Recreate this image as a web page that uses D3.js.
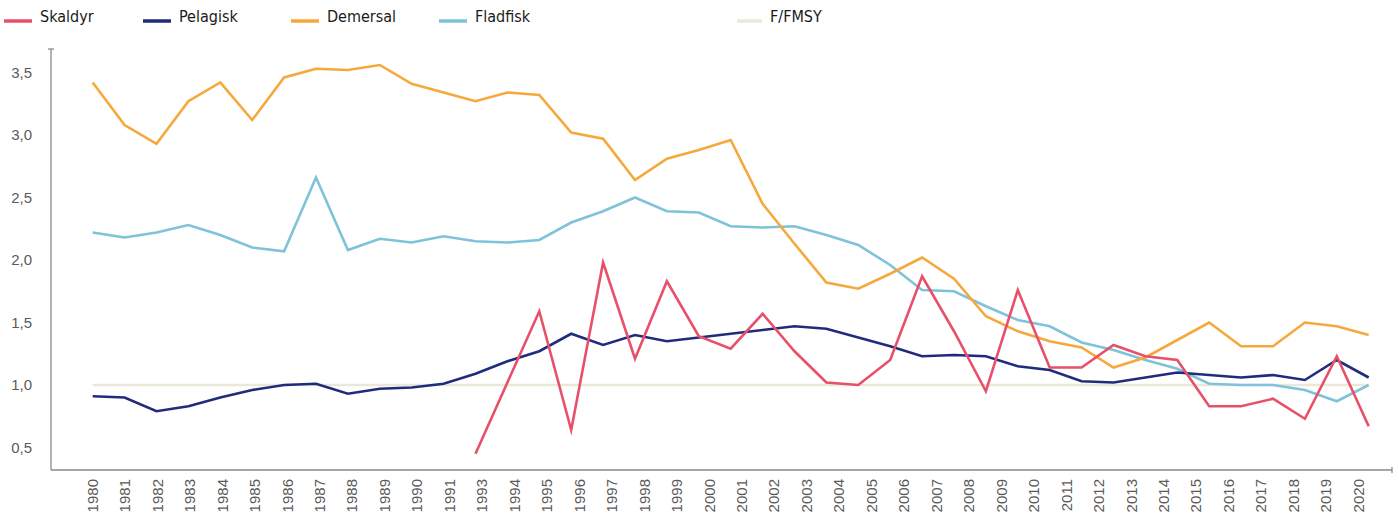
<!DOCTYPE html>
<html>
<head>
<meta charset="utf-8">
<script src="https://cdn.jsdelivr.net/npm/d3@7"></script>
<style>
  html, body { margin: 0; padding: 0; background: #fff; }
  svg { display: block; }
</style>
</head>
<body>
<svg id="chart" width="1399" height="522"></svg>
<script>
// ---- data ----
const years = d3.range(1980, 2021); // 41 data points
const tickLabels = ["1980","1981","1982","1983","1984","1985","1986","1987","1988","1989","1990","1991",
  "1993","1994","1995","1996","1997","1998","1999","2000","2001","2002","2003","2004","2005","2006",
  "2007","2008","2009","2010","2011","2012","2013","2014","2015","2016","2017","2018","2019","2020"];
const yTicks = [0.5, 1.0, 1.5, 2.0, 2.5, 3.0, 3.5];

const skaldyr = [null,null,null,null,null,null,null,null,null,null,null,null,
  0.45,1.02,1.59,0.64,1.98,1.21,1.83,1.39,1.29,1.57,1.27,1.02,1.00,1.20,1.87,1.43,0.95,1.76,
  1.14,1.14,1.32,1.23,1.20,0.83,0.83,0.89,0.73,1.23,0.67];
const pelagisk = [0.91,0.90,0.79,0.83,0.90,0.96,1.00,1.01,0.93,0.97,0.98,1.01,
  1.09,1.19,1.27,1.41,1.32,1.40,1.35,1.38,1.41,1.44,1.47,1.45,1.38,1.31,1.23,1.24,1.23,1.15,
  1.12,1.03,1.02,1.06,1.10,1.08,1.06,1.08,1.04,1.20,1.06];
const demersal = [3.42,3.08,2.93,3.27,3.42,3.12,3.46,3.53,3.52,3.56,3.41,3.34,
  3.27,3.34,3.32,3.02,2.97,2.64,2.81,2.88,2.96,2.45,2.13,1.82,1.77,1.89,2.02,1.85,1.55,1.43,
  1.35,1.30,1.14,1.22,1.36,1.50,1.31,1.31,1.50,1.47,1.40];
const fladfisk = [2.22,2.18,2.22,2.28,2.20,2.10,2.07,2.66,2.08,2.17,2.14,2.19,
  2.15,2.14,2.16,2.30,2.39,2.50,2.39,2.38,2.27,2.26,2.27,2.20,2.12,1.96,1.76,1.75,1.63,1.52,
  1.47,1.34,1.28,1.20,1.13,1.01,1.00,1.00,0.96,0.87,1.00];
const fmsy = years.map(() => 1.0);

const seriesNames = ["Skaldyr","Pelagisk","Demersal","Fladfisk","F/FMSY"];
const seriesValues = [skaldyr, pelagisk, demersal, fladfisk, fmsy];
const seriesColors = ["#e8506a","#1f2c7c","#f6a83b","#7ec3d9","#ebe8da"];

// ---- layout ----
const svg = d3.select("#chart");
const x0 = 51, x1 = 1392, yTop = 49, yBot = 470;

const x = d3.scalePoint().domain(years).range([92.7, 1368.7]);
const xLab = d3.scalePoint().domain(tickLabels).range([92, 1358]);
const y = d3.scaleLinear().domain([0.32, 3.688]).range([yBot, yTop]);

const axisColor = "#8a8a8a";
const labelColor = "#5a5a5a";

// y axis
const yAxis = svg.append("g").attr("transform", `translate(${x0},0)`)
  .call(d3.axisLeft(y).tickValues(yTicks).tickSize(0).tickPadding(19)
    .tickFormat(d => d3.format(".1f")(d).replace(".", ",")));
yAxis.select(".domain").remove();
yAxis.selectAll("text").attr("fill", labelColor)
  .style("font-family", "'Liberation Sans', Arial, sans-serif").style("font-size", "15px");
svg.append("line").attr("x1", x0).attr("x2", x0).attr("y1", yTop).attr("y2", yBot)
  .attr("stroke", axisColor).attr("stroke-width", 1.3);
svg.append("line").attr("x1", x0 - 3).attr("x2", x0 + 3).attr("y1", yTop).attr("y2", yTop)
  .attr("stroke", axisColor).attr("stroke-width", 1.3);

// x axis
const xAxis = svg.append("g").attr("transform", `translate(0,${yBot})`)
  .call(d3.axisBottom(xLab).tickSize(0).tickPadding(0));
xAxis.select(".domain").remove();
xAxis.selectAll("text")
  .attr("fill", labelColor)
  .style("font-family", "'Liberation Sans', Arial, sans-serif").style("font-size", "15px")
  .attr("text-anchor", "end")
  .attr("transform", "rotate(-90)")
  .attr("x", -9).attr("y", 0).attr("dy", "0.35em");
svg.append("line").attr("x1", x0).attr("x2", x1).attr("y1", yBot).attr("y2", yBot)
  .attr("stroke", axisColor).attr("stroke-width", 1.3);
svg.append("line").attr("x1", x1).attr("x2", x1).attr("y1", yBot - 3).attr("y2", yBot + 3)
  .attr("stroke", axisColor).attr("stroke-width", 1.3);

// lines (draw F/FMSY first, Skaldyr last)
const line = d3.line()
  .defined(d => d.v != null)
  .x(d => x(d.year))
  .y(d => y(d.v));
const order = [4, 3, 2, 1, 0];
order.forEach(i => {
  const pts = years.map((yr, k) => ({ year: yr, v: seriesValues[i][k] }));
  svg.append("path").datum(pts)
    .attr("d", line)
    .attr("fill", "none")
    .attr("stroke", seriesColors[i])
    .attr("stroke-width", 2.6)
    .attr("stroke-linejoin", "miter")
    .attr("stroke-miterlimit", 10);
});

// legend
const legendX = [4, 143, 291, 439, 737];
const legend = svg.append("g");
seriesNames.forEach((name, i) => {
  const g = legend.append("g").attr("transform", `translate(${legendX[i]},0)`);
  g.append("line").attr("x1", 0).attr("x2", i === 4 ? 25 : 28).attr("y1", 21).attr("y2", 21)
    .attr("stroke", seriesColors[i]).attr("stroke-width", 3.5);
  g.append("text").attr("x", i === 4 ? 33 : 36).attr("y", 22)
    .attr("fill", "#1a1a1a")
    .style("font-family", "'Liberation Sans Narrow', 'DejaVu Sans Condensed', sans-serif")
    .style("font-size", "16px")
    .text(name);
});
</script>
</body>
</html>
